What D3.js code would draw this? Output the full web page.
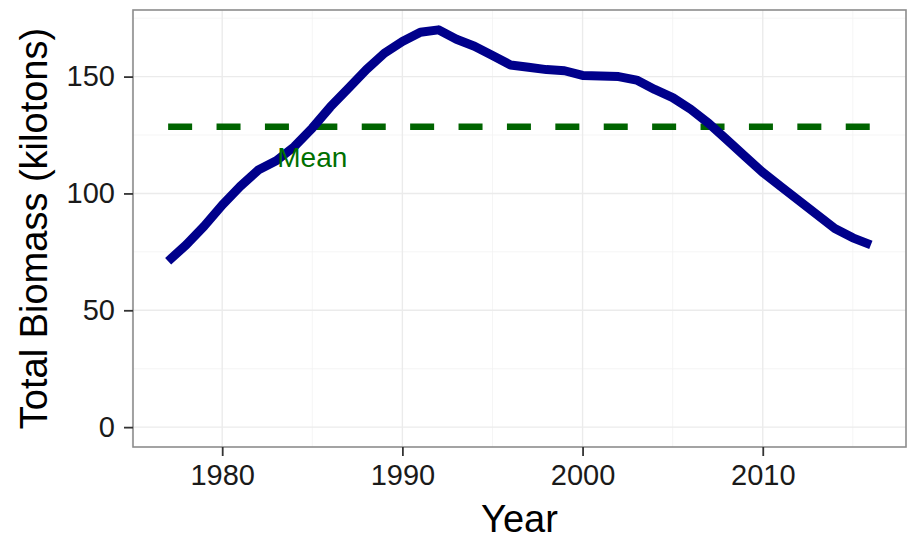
<!DOCTYPE html>
<html>
<head>
<meta charset="utf-8">
<script src="https://cdn.jsdelivr.net/npm/d3@7"></script>
<style>
  html, body { margin: 0; padding: 0; background: #ffffff; }
  svg { display: block; font-family: "Liberation Sans", Arial, sans-serif; }
</style>
</head>
<body>
<svg id="chart" width="912" height="540"></svg>
<script>
// ---- data ----
const years = [1977, 1978, 1979, 1980, 1981, 1982, 1983, 1984, 1985, 1986,
               1987, 1988, 1989, 1990, 1991, 1992, 1993, 1994, 1995, 1996,
               1997, 1998, 1999, 2000, 2001, 2002, 2003, 2004, 2005, 2006,
               2007, 2008, 2009, 2010, 2011, 2012, 2013, 2014, 2015, 2016];
const biomass = [71, 78, 86, 95, 103, 110, 114, 120, 128, 137,
                 145, 153, 160, 165, 169, 170, 166, 163, 159, 155,
                 154, 153, 152.5, 150.5, 150.3, 150, 148.5, 144.5, 141, 136,
                 130, 123, 116, 109, 103, 97, 91, 85, 81, 78];
const xTicks = [1980, 1990, 2000, 2010];
const xMinor = [1975, 1985, 1995, 2005, 2015];
const yTicks = [0, 50, 100, 150];
const yMinor = [25, 75, 125, 175];
const meanLabel = "Mean";
const meanLabelYear = 1985;
const meanLabelValue = 111.5;
const xTitle = "Year";
const yTitle = "Total Biomass (kilotons)";

const data = years.map((y, i) => ({ year: y, value: biomass[i] }));
const meanValue = d3.mean(biomass);

// ---- layout ----
const svg = d3.select("#chart");
const panel = { left: 133, right: 906, top: 10, bottom: 447 };

const xExt = d3.extent(years);
const xPad = (xExt[1] - xExt[0]) * 0.05;
const x = d3.scaleLinear()
  .domain([xExt[0] - xPad, xExt[1] + xPad])
  .range([panel.left, panel.right]);

const yMax = d3.max(biomass);
const yPad = (yMax - 0) * 0.05;
const y = d3.scaleLinear()
  .domain([0 - yPad, yMax + yPad])
  .range([panel.bottom, panel.top]);

// ---- grid ----
const grid = svg.append("g");
grid.selectAll(".xminor").data(xMinor).enter().append("line")
  .attr("x1", d => x(d)).attr("x2", d => x(d))
  .attr("y1", panel.top).attr("y2", panel.bottom)
  .attr("stroke", "#f2f2f2").attr("stroke-width", 0.8);
grid.selectAll(".yminor").data(yMinor).enter().append("line")
  .attr("x1", panel.left).attr("x2", panel.right)
  .attr("y1", d => y(d)).attr("y2", d => y(d))
  .attr("stroke", "#f2f2f2").attr("stroke-width", 0.8);
grid.selectAll(".xmajor").data(xTicks).enter().append("line")
  .attr("x1", d => x(d)).attr("x2", d => x(d))
  .attr("y1", panel.top).attr("y2", panel.bottom)
  .attr("stroke", "#ebebeb").attr("stroke-width", 1.4);
grid.selectAll(".ymajor").data(yTicks).enter().append("line")
  .attr("x1", panel.left).attr("x2", panel.right)
  .attr("y1", d => y(d)).attr("y2", d => y(d))
  .attr("stroke", "#ebebeb").attr("stroke-width", 1.4);

// ---- mean line ----
svg.append("line")
  .attr("x1", x(xExt[0])).attr("x2", x(xExt[1]))
  .attr("y1", y(meanValue)).attr("y2", y(meanValue))
  .attr("stroke", "#006400")
  .attr("stroke-width", 6.5)
  .attr("stroke-dasharray", "24,24.4");

// ---- biomass line ----
const line = d3.line().x(d => x(d.year)).y(d => y(d.value));
svg.append("path")
  .datum(data)
  .attr("d", line)
  .attr("fill", "none")
  .attr("stroke", "#00008b")
  .attr("stroke-width", 9)
  .attr("stroke-linejoin", "round")
  .attr("stroke-linecap", "butt");

// ---- mean label ----
svg.append("text")
  .attr("x", x(meanLabelYear))
  .attr("y", y(meanLabelValue))
  .attr("text-anchor", "middle")
  .attr("fill", "#007000")
  .attr("font-size", 28)
  .text(meanLabel);

// ---- panel border ----
svg.append("rect")
  .attr("x", panel.left).attr("y", panel.top)
  .attr("width", panel.right - panel.left)
  .attr("height", panel.bottom - panel.top)
  .attr("fill", "none")
  .attr("stroke", "#8c8c8c")
  .attr("stroke-width", 1.6);

// ---- axes ----
const xAxis = svg.append("g")
  .attr("transform", `translate(0,${panel.bottom})`)
  .call(d3.axisBottom(x).tickValues(xTicks).tickFormat(d3.format("d"))
        .tickSizeInner(9).tickSizeOuter(0).tickPadding(8));
xAxis.select(".domain").remove();
xAxis.selectAll(".tick line").attr("stroke", "#333333").attr("stroke-width", 1.8);
xAxis.selectAll(".tick text").attr("font-size", 29).attr("fill", "#1a1a1a")
  .attr("font-family", "Liberation Sans, Arial, sans-serif");

const yAxis = svg.append("g")
  .attr("transform", `translate(${panel.left},0)`)
  .call(d3.axisLeft(y).tickValues(yTicks).tickFormat(d3.format("d"))
        .tickSizeInner(9).tickSizeOuter(0).tickPadding(9));
yAxis.select(".domain").remove();
yAxis.selectAll(".tick line").attr("stroke", "#333333").attr("stroke-width", 1.8);
yAxis.selectAll(".tick text").attr("font-size", 29).attr("fill", "#1a1a1a")
  .attr("font-family", "Liberation Sans, Arial, sans-serif");

// ---- titles ----
svg.append("text")
  .attr("x", (panel.left + panel.right) / 2)
  .attr("y", 532)
  .attr("text-anchor", "middle")
  .attr("font-size", 38)
  .attr("fill", "#000")
  .text(xTitle);

svg.append("text")
  .attr("transform", `translate(47,${(panel.top + panel.bottom) / 2}) rotate(-90)`)
  .attr("text-anchor", "middle")
  .attr("font-size", 38)
  .attr("fill", "#000")
  .text(yTitle);
</script>
</body>
</html>
